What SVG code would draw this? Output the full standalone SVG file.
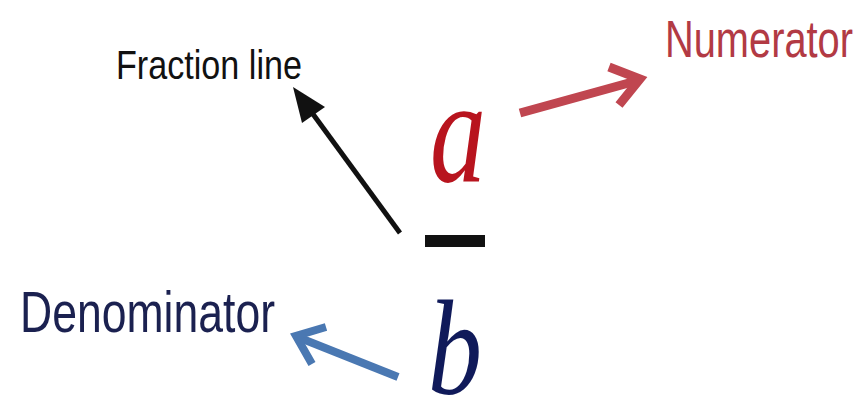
<svg xmlns="http://www.w3.org/2000/svg" width="865" height="402" viewBox="0 0 865 402">
<style>
.lbl{font-family:"Liberation Sans",Arial,sans-serif;}
.var{font-family:"Liberation Serif","Times New Roman",serif;font-style:italic;}
.shaft{fill:none;stroke-linecap:butt;}
.head{fill:none;stroke-linejoin:miter;stroke-linecap:butt;}
</style>
<rect width="865" height="402" fill="#ffffff"/>
<g id="numerator-label"><text class="lbl" x="665" y="57" font-size="52" fill="#b23a44" textLength="188" lengthAdjust="spacingAndGlyphs">Numerator</text></g>
<g id="fraction-line-label"><text class="lbl" x="116" y="79" font-size="40" fill="#111111" textLength="186" lengthAdjust="spacingAndGlyphs">Fraction line</text></g>
<g id="denominator-label"><text class="lbl" x="20" y="332" font-size="57" fill="#1b2150" textLength="255" lengthAdjust="spacingAndGlyphs">Denominator</text></g>
<g id="a"><text class="var" x="430" y="181" font-size="148" fill="#b8141e" textLength="56" lengthAdjust="spacingAndGlyphs">a</text></g>
<g id="bar"><rect x="425" y="235" width="60" height="12" fill="#111111"/></g>
<g id="b"><text class="var" x="428" y="394" font-size="136" fill="#101a5a" textLength="54" lengthAdjust="spacingAndGlyphs">b</text></g>
<g id="connectors">
<path class="shaft" d="M520,113 L636,81" stroke="#c04650" stroke-width="9"/>
<path class="head" d="M609,67 L640,79 L619,105" stroke="#c04650" stroke-width="9"/>
<path class="shaft" d="M400,233 L310,110" stroke="#111111" stroke-width="5"/>
<path d="M293,87 L325,107 L302,123 Z" fill="#111111"/>
<path class="shaft" d="M398,377 L300,338" stroke="#4a78b2" stroke-width="8"/>
<path class="head" d="M326,327 L296,336 L312,364" stroke="#4a78b2" stroke-width="8"/>
</g>
</svg>
